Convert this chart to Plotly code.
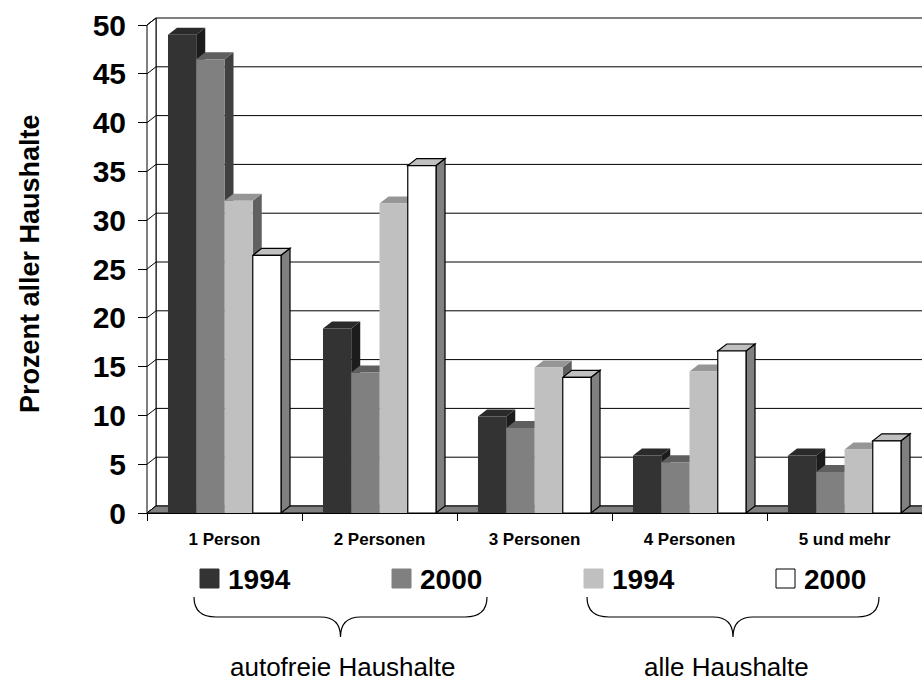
import plotly.graph_objects as go

# ---------------- data ----------------
categories = ["1 Person", "2 Personen", "3 Personen", "4 Personen", "5 und mehr"]
series_names = ["1994", "2000", "1994", "2000"]
group_labels = ["autofreie Haushalte", "alle Haushalte"]
autofrei_1994 = [49.0, 18.9, 9.9, 5.9, 5.9]
autofrei_2000 = [46.5, 14.4, 8.7, 5.2, 4.2]
alle_1994 = [32.0, 31.7, 14.9, 14.5, 6.5]
alle_2000 = [26.4, 35.6, 13.9, 16.6, 7.4]
y_ticks = [0, 5, 10, 15, 20, 25, 30, 35, 40, 45, 50]
y_title = "Prozent aller Haushalte"

series = [autofrei_1994, autofrei_2000, alle_1994, alle_2000]

# ---------------- styling ----------------
W, H = 922, 686
PL, PR, PT, PB = 145, 922, 15, 513        # plot area in pixels
PX_PER_CAT = 155.0
PX_PER_UNIT = 9.76
X0 = -0.5 - (147 - PL) / PX_PER_CAT
X1 = X0 + (PR - PL) / PX_PER_CAT
Y1 = (PB - PT) / PX_PER_UNIT
DX = 9 / PX_PER_CAT                       # depth offset (data units)
DY = 7 / PX_PER_UNIT
BW = 0.1823                               # bar width (category units)
FONT = "Liberation Sans, Arial, sans-serif"

front_colors = ["#333333", "#808080", "#c0c0c0", "#ffffff"]
top_colors = ["#2a2a2a", "#5f5f5f", "#969696", "#c0c0c0"]
side_colors = ["#1c1c1c", "#404040", "#606060", "#808080"]
edge_colors = ["rgba(0,0,0,0)", "rgba(0,0,0,0)", "rgba(0,0,0,0)", "black"]


def px(x):
    return (x - PL) / (PR - PL)


def py(y):
    return (PB - y) / (PB - PT)


fig = go.Figure()
shapes = []

# back wall grid lines
for t in y_ticks:
    shapes.append(dict(type="line", xref="x", yref="y", layer="below",
                       x0=-0.5 + DX, x1=X1 + 1, y0=t + DY, y1=t + DY,
                       line=dict(color="black", width=1)))
# back wall left edge
shapes.append(dict(type="line", xref="x", yref="y", layer="below",
                   x0=-0.5 + DX, x1=-0.5 + DX, y0=DY, y1=y_ticks[-1] + DY,
                   line=dict(color="black", width=1)))
# left wall
shapes.append(dict(type="path", xref="x", yref="y", layer="below",
                   path=f"M {-0.5},0 L {-0.5},{y_ticks[-1]} L {-0.5+DX},{y_ticks[-1]+DY} L {-0.5+DX},{DY} Z",
                   fillcolor="white", line=dict(color="black", width=1)))
for t in y_ticks:
    shapes.append(dict(type="line", xref="x", yref="y", layer="below",
                       x0=-0.5, x1=-0.5 + DX, y0=t, y1=t + DY,
                       line=dict(color="black", width=1)))
# floor
shapes.append(dict(type="path", xref="x", yref="y", layer="below",
                   path=f"M {-0.5},0 L {X1+1},0 L {X1+1+DX},{DY} L {-0.5+DX},{DY} Z",
                   fillcolor="#808080", line=dict(color="black", width=1)))

# bars: front faces as traces, top & side faces as shapes
for i, vals in enumerate(series):
    off = -2 * BW + i * BW
    fig.add_trace(go.Bar(
        x=list(range(len(categories))), y=vals, width=BW, offset=off,
        marker=dict(color=front_colors[i],
                    line=dict(color=edge_colors[i], width=1.2)),
        name=series_names[i], showlegend=False, hoverinfo="y"))

for c in range(len(categories)):
    for i, vals in enumerate(series):
        v = vals[c]
        xa = c - 2 * BW + i * BW
        xb = xa + BW
        lw = 1.2 if i == 3 else 0
        shapes.append(dict(type="path", xref="x", yref="y", layer="below",
                           path=f"M {xb},0 L {xb},{v} L {xb+DX},{v+DY} L {xb+DX},{DY} Z",
                           fillcolor=side_colors[i],
                           line=dict(color="black", width=lw)))
        shapes.append(dict(type="path", xref="x", yref="y", layer="below",
                           path=f"M {xa},{v} L {xb},{v} L {xb+DX},{v+DY} L {xa+DX},{v+DY} Z",
                           fillcolor=top_colors[i],
                           line=dict(color="black", width=lw)))

annotations = []
# legend
legend_x = [200, 392, 584, 776]
for i, name in enumerate(series_names):
    x0 = legend_x[i]
    shapes.append(dict(type="rect", xref="paper", yref="paper",
                       x0=px(x0), x1=px(x0 + 19), y0=py(588), y1=py(569),
                       fillcolor=front_colors[i],
                       line=dict(color="black" if i == 3 else front_colors[i], width=1)))
    annotations.append(dict(xref="paper", yref="paper", x=px(x0 + 26), y=py(579),
                            xanchor="left", yanchor="middle", showarrow=False,
                            text=f"<b>{name}</b>",
                            font=dict(family=FONT, size=28, color="black")))

# braces
def brace(xl, xr, ytop=597, yflat=617, ytip=637):
    xm = (xl + xr) / 2
    pts = [
        f"M {px(xl)},{py(ytop)}",
        f"Q {px(xl)},{py(yflat)} {px(xl+22)},{py(yflat)}",
        f"L {px(xm-20)},{py(yflat)}",
        f"Q {px(xm)},{py(yflat)} {px(xm)},{py(ytip)}",
        f"Q {px(xm)},{py(yflat)} {px(xm+20)},{py(yflat)}",
        f"L {px(xr-22)},{py(yflat)}",
        f"Q {px(xr)},{py(yflat)} {px(xr)},{py(ytop)}",
    ]
    return dict(type="path", xref="paper", yref="paper", path=" ".join(pts),
                line=dict(color="black", width=1.2))

shapes.append(brace(194, 487))
shapes.append(brace(587, 879))

annotations.append(dict(xref="paper", yref="paper", x=px(342), y=py(667),
                        xanchor="center", yanchor="middle", showarrow=False,
                        text=group_labels[0], font=dict(family=FONT, size=26, color="black")))
annotations.append(dict(xref="paper", yref="paper", x=px(726), y=py(667),
                        xanchor="center", yanchor="middle", showarrow=False,
                        text=group_labels[1], font=dict(family=FONT, size=26, color="black")))
# y axis title
annotations.append(dict(xref="paper", yref="paper", x=px(30), y=py(264),
                        xanchor="center", yanchor="middle", showarrow=False,
                        textangle=-90, text=f"<b>{y_title}</b>",
                        font=dict(family=FONT, size=27, color="black")))

fig.update_layout(
    width=W, height=H,
    margin=dict(l=PL, r=W - PR, t=PT, b=H - PB, pad=0),
    paper_bgcolor="white", plot_bgcolor="white",
    barmode="overlay",
    showlegend=False,
    shapes=shapes,
    annotations=annotations,
    xaxis=dict(range=[X0, X1], tickvals=list(range(len(categories))),
               ticktext=[f"<b>{c}</b>" for c in categories],
               ticks="", showgrid=False, zeroline=False,
               showline=True, linecolor="black", linewidth=1,
               tickfont=dict(family=FONT, size=17, color="black"),
               ticklabelstandoff=11,
               minor=dict(tickvals=[-0.5, 0.5, 1.5, 2.5, 3.5], ticks="outside",
                          ticklen=7, tickcolor="black", tickwidth=1)),
    yaxis=dict(range=[0, Y1], tickvals=y_ticks,
               ticktext=[f"<b>{t}</b>" for t in y_ticks],
               ticks="outside", ticklen=9, tickcolor="black", tickwidth=1,
               showgrid=False, zeroline=False, showline=False,
               anchor="free", position=px(147),
               tickfont=dict(family=FONT, size=30, color="black"),
               ticklabelstandoff=6),
)

fig.write_html("out.html",
               config={"displayModeBar": False},
               post_script="document.body.style.margin='0';document.body.style.overflow='hidden';")
